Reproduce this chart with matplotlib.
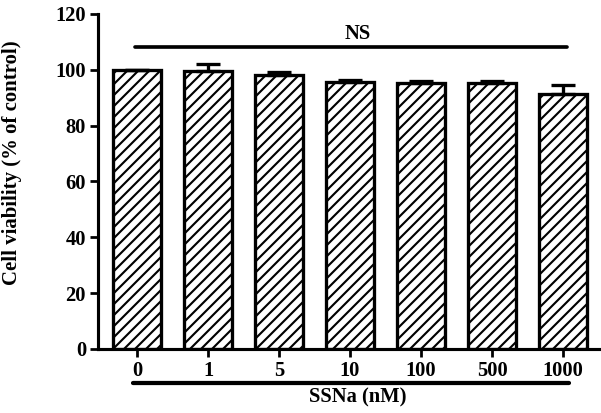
import numpy as np
import matplotlib
matplotlib.use("Agg")
import matplotlib.pyplot as plt
import matplotlib.transforms as mtransforms

# data
conc_labels = ["0", "1", "5", "10", "100", "500", "1000"]
viability = [100.0, 99.7, 98.2, 95.7, 95.3, 95.3, 91.4]
viability_err = [0.0, 2.3, 1.2, 0.7, 0.8, 0.8, 3.2]
ns_level = 108.0

DPI = 132
plt.rcParams["font.family"] = ["Liberation Serif", "DejaVu Serif"]
plt.rcParams["font.weight"] = "bold"
plt.rcParams["hatch.linewidth"] = 1.15

fig = plt.figure(figsize=(601 / DPI, 413 / DPI), dpi=DPI)
ax = fig.add_axes([98 / 601, 64 / 413, 503 / 601, 335 / 413])

x = np.arange(len(conc_labels))
ax.bar(x, viability, width=0.68, color="white", edgecolor="black",
       linewidth=1.8, hatch="////", zorder=2)
ax.errorbar(x, viability, yerr=[np.zeros(len(x)), viability_err], fmt="none",
            ecolor="black", elinewidth=1.8, capsize=6.5, capthick=1.8, zorder=3)

ax.set_xlim(-0.55, 6.535)
ax.set_ylim(0, 120)
ax.set_yticks(np.arange(0, 121, 20))
ax.set_xticks(x)
ax.set_xticklabels(conc_labels)

for side in ["top", "right"]:
    ax.spines[side].set_visible(False)
for side in ["left", "bottom"]:
    ax.spines[side].set_linewidth(1.7)
ax.tick_params(axis="both", direction="out", length=4.5, width=1.5,
               labelsize=11.2, pad=2)

ax.set_ylabel("Cell viability (% of control)", fontsize=11.3, fontweight="bold")
ax.yaxis.set_label_coords(-0.151, 0.555)

# NS bracket above the bars
ax.plot([-0.03, 6.06], [ns_level, ns_level], color="black", lw=2.0,
        solid_capstyle="round", clip_on=False)
ax.text(3.11, ns_level + 1.3, "NS", ha="center", va="bottom", fontsize=11.2,
        fontweight="bold")

# group line under the tick labels
trans = mtransforms.blended_transform_factory(ax.transData, ax.transAxes)
ax.plot([-0.05, 6.08], [-0.101, -0.101], color="black", lw=2.3,
        solid_capstyle="round", transform=trans, clip_on=False)
ax.text(3.11, -0.146, "SSNa (nM)", ha="center", va="center", fontsize=11.2,
        fontweight="bold", transform=trans)

fig.savefig("out.png", dpi=DPI)
